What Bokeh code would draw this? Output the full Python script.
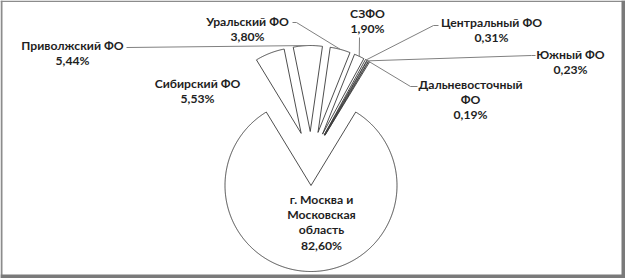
import numpy as np
from bokeh.plotting import figure
from bokeh.models import Range1d
from bokeh.core.properties import value
from bokeh.embed import file_html
from bokeh.resources import INLINE

# ---------------- data ----------------
regions = ["г. Москва и Московская область", "Сибирский ФО", "Приволжский ФО",
           "Уральский ФО", "СЗФО", "Центральный ФО", "Южный ФО", "Дальневосточный ФО"]
shares = [82.60, 5.53, 5.44, 3.80, 1.90, 0.31, 0.23, 0.19]
label_lines = [["г. Москва и", "Московская", "область"], ["Сибирский ФО"], ["Приволжский ФО"],
               ["Уральский ФО"], ["СЗФО"], ["Центральный ФО"], ["Южный ФО"],
               ["Дальневосточный", "ФО"]]

# ---------------- layout (page pixels) ----------------
CX, CY = 310.5, 158.0
R = 86.0
EXPLODE = 27.0
label_pos = [(321, 198.5), (197, 82.5), (72, 44.5), (247, 20.5), (367, 13), (491, 21.5), (570, 53.5), (470, 83.5)]
LINE_H = 15.4
leader_start = [None, None, [(126, 47)], [(292, 22), (296, 22)], [(359, 37)],
                [(438, 25), (433, 25)], [(535, 55), (531, 55)], [(417, 86), (410, 86)]]

W, H = 625, 278
p = figure(width=W, height=H, output_backend="svg", toolbar_location=None,
           x_range=Range1d(0, W), y_range=Range1d(H, 0),
           min_border=0, outline_line_color=None)
p.axis.visible = False
p.grid.visible = False
p.background_fill_color = "white"
p.border_fill_color = "white"

total = sum(shares)
a0 = 180.0 * (1 - shares[0] / total)
cum = np.concatenate([[0], np.cumsum(shares)[:-1]])
xs, ys, tops = [], [], []
for v, c in zip(shares, cum):
    s = a0 + c / total * 360.0
    e = s + v / total * 360.0
    m = np.radians((s + e) / 2)
    ax = CX + EXPLODE * np.sin(m)
    ay = CY - EXPLODE * np.cos(m)
    t = np.radians(np.linspace(s, e, max(4, int((e - s) * 2))))
    xs.append([ax] + list(ax + R * np.sin(t)))
    ys.append([ay] + list(ay - R * np.cos(t)))
    tops.append((ax + R * np.sin(m), ay - R * np.cos(m)))

p.patches(xs, ys, fill_color="white", line_color="#3a3a3a", line_width=0.9)

# leader lines
lx, ly = [], []
for i, st in enumerate(leader_start):
    if st is None:
        continue
    pts = st + [tops[i]]
    lx.append([q[0] for q in pts])
    ly.append([q[1] for q in pts])
p.multi_line(lx, ly, line_color="#808080", line_width=1)

# labels
tx, ty, tt = [], [], []
for i, (lines, v) in enumerate(zip(label_lines, shares)):
    pct = f"{v:.2f}%".replace(".", ",")
    for k, ln in enumerate(lines + [pct]):
        tx.append(label_pos[i][0])
        ty.append(label_pos[i][1] + k * LINE_H)
        tt.append(ln)
p.text(tx, ty, text=tt, text_font=value("Lato"), text_font_style="bold",
       text_font_size="12.2px", text_align="center", text_baseline="middle",
       text_color="#1f1f1f")

# frame with shadow
p.quad(left=[0, 0], right=[W, 2], top=[0, 0], bottom=[1.5, H],
       fill_color="#8c8c8c", line_color=None)
p.quad(left=[W - 4, 0], right=[W, W], top=[0, H - 4], bottom=[H, H],
       fill_color="#7a7a7a", line_color=None)

open("out.html", "w").write(file_html(p, INLINE))
